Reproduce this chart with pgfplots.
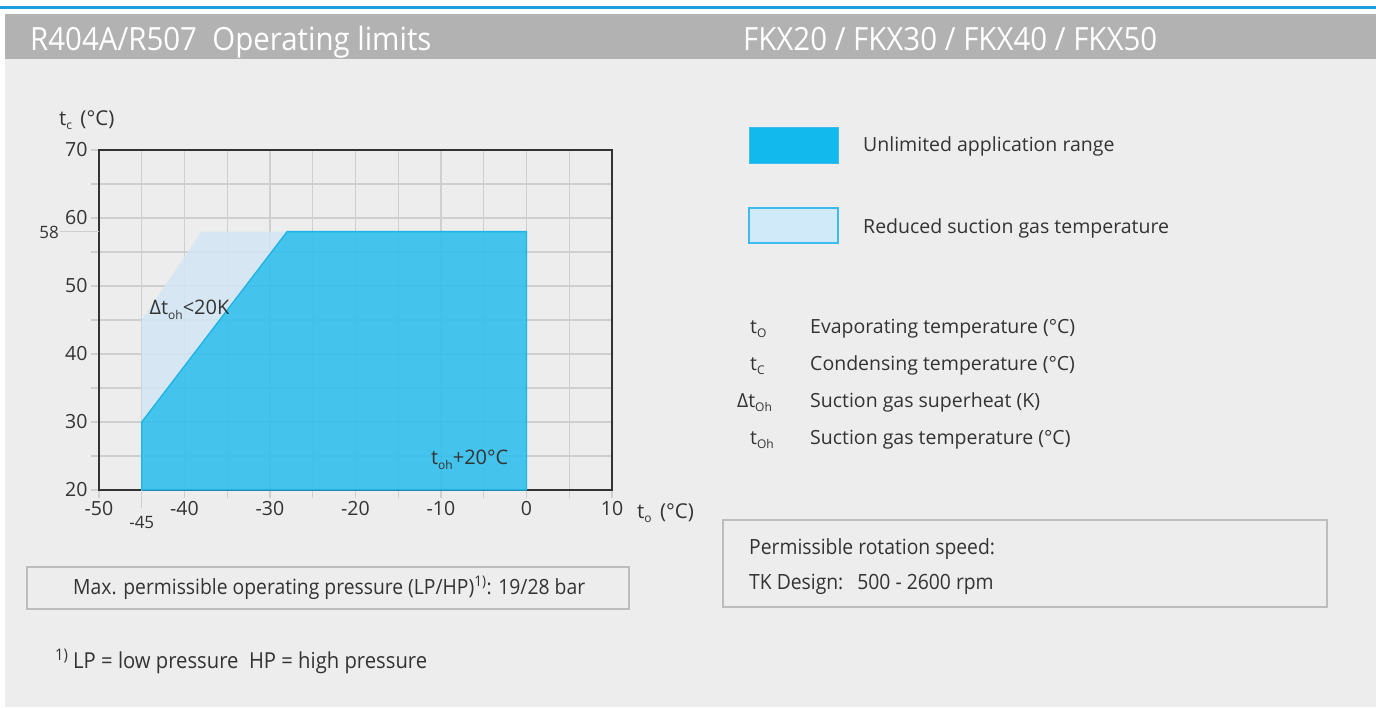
\documentclass[border=0pt]{standalone}
\usepackage{fontspec}
\setmainfont{Open Sans}
\newfontfamily\condfont[FakeStretch=0.92]{Open Sans}
\usepackage{pgfplots}
\pgfplotsset{compat=1.18}
\definecolor{bg}{HTML}{EDEDED}
\definecolor{hdr}{HTML}{B2B2B2}
\definecolor{topblue}{HTML}{1C9FDC}
\definecolor{txt}{HTML}{333333}
\definecolor{gridc}{HTML}{CFCFCF}
\definecolor{darkfill}{HTML}{32BFEC}
\definecolor{darkedge}{HTML}{1AB4E8}
\definecolor{lightfill}{HTML}{D2E7F5}
\definecolor{swdark}{HTML}{12B9EC}
\definecolor{swlight}{HTML}{D0EAF9}
\definecolor{swedge}{HTML}{3DBBEE}
\definecolor{boxc}{HTML}{BDBDBD}
\newcommand{\sub}[1]{\raisebox{-0.45ex}{\fontsize{12}{12}\selectfont #1}}

\pgfplotstableread{
x y
-45 30
-45 45
-38 58
-28 58
-45 30
}\reducedtab
\pgfplotstableread{
x y
-45 20
-45 30
-28 58
0 58
0 20
-45 20
}\unlimtab

\begin{document}
\begin{tikzpicture}
\fill[white] (0pt,0pt) rectangle (1376pt,-707pt);
\fill[bg] (5pt,-14pt) rectangle (1376pt,-707pt);
\fill[hdr] (5pt,-14pt) rectangle (1376pt,-59pt);
\fill[topblue] (0pt,-6pt) rectangle (1376pt,-8.5pt);
\node[anchor=base west, white, font=\condfont\fontsize{32}{32}\selectfont, inner sep=0pt] at (30pt,-50pt) {R404A/R507\ \ Operating limits};
\node[anchor=base west, white, font=\condfont\fontsize{32}{32}\selectfont, inner sep=0pt] at (743pt,-50pt) {FKX20 / FKX30 / FKX40 / FKX50};

\begin{axis}[
  at={(99pt,-490pt)}, anchor=south west,
  scale only axis, width=513pt, height=340pt,
  xmin=-50, xmax=10, ymin=20, ymax=70,
  xtick={-50,-40,...,10}, ytick={20,30,...,70},
  minor xtick={-45,-35,...,5}, minor ytick={25,35,...,65},
  xticklabels={-50,-40,-30,-20,-10,0,10},
  yticklabels={20,30,40,50,60,70},
  xtick pos=bottom, ytick pos=left,
  grid=both,
  major grid style={gridc, line width=1.1pt},
  minor grid style={gridc, line width=1.1pt},
  tick align=outside, major tick length=8pt, minor tick length=8pt,
  every tick/.style={gridc, line width=1.1pt},
  axis line style={txt, line width=1.2pt},
  tick label style={font=\fontsize{19.5}{20}\selectfont, text=txt},
  /pgf/number format/assume math mode=true,
  clip=false,
]
\addplot[fill=lightfill, fill opacity=0.85, draw=none] table[x=x,y=y] {\reducedtab};
\addplot[fill=darkfill, fill opacity=0.9, draw=darkedge, line width=1.3pt] table[x=x,y=y] {\unlimtab};
\draw[gridc, line width=1.1pt] (axis cs:-45,20) -- ++(0pt,-18pt);
\node[anchor=base, txt, font=\fontsize{17}{17}\selectfont, inner sep=0pt] at ([yshift=-38pt]axis cs:-45,20) {-45};
\draw[gridc, line width=1.1pt] (axis cs:-50,58) -- ++(-39pt,0pt);
\node[anchor=base east, txt, font=\fontsize{17}{17}\selectfont, inner sep=0pt] at ([xshift=-40pt,yshift=-7pt]axis cs:-50,58) {58};
\node[anchor=west, txt, font=\fontsize{20}{20}\selectfont, inner sep=0pt] at (axis cs:-44.1,46.5) {Δt\sub{oh}<20K};
\node[anchor=east, txt, font=\fontsize{20}{20}\selectfont, inner sep=0pt] at (axis cs:-2.1,24.4) {t\sub{oh}+20°C};
\end{axis}

\node[anchor=base west, txt, font=\fontsize{20.5}{20}\selectfont, inner sep=0pt] at (59pt,-125pt) {t\sub{c}\hspace{3pt} (°C)};
\node[anchor=base west, txt, font=\fontsize{20.5}{20}\selectfont, inner sep=0pt] at (637pt,-518pt) {t\sub{o}\hspace{3pt} (°C)};

% legend swatches
\draw[swedge, line width=1pt, fill=swdark] (749pt,-127pt) rectangle (838pt,-163pt);
\draw[swedge, line width=1.5pt, fill=swlight] (749pt,-208pt) rectangle (838pt,-243pt);
\node[anchor=base west, txt, font=\fontsize{19.5}{20}\selectfont, inner sep=0pt] at (863pt,-151pt) {Unlimited application range};
\node[anchor=base west, txt, font=\fontsize{19.5}{20}\selectfont, inner sep=0pt] at (863pt,-233pt) {Reduced suction gas temperature};

% symbol list
\begin{scope}[every node/.style={anchor=base west, txt, font=\fontsize{19.5}{20}\selectfont, inner sep=0pt}]
\node at (750pt,-333pt) {t\sub{O}};
\node at (810pt,-333pt) {Evaporating temperature (°C)};
\node at (750pt,-370pt) {t\sub{C}};
\node at (810pt,-370pt) {Condensing temperature (°C)};
\node at (737pt,-407pt) {Δt\sub{Oh}};
\node at (810pt,-407pt) {Suction gas superheat (K)};
\node at (750pt,-444pt) {t\sub{Oh}};
\node at (810pt,-444pt) {Suction gas temperature (°C)};
\end{scope}

% boxes
\draw[boxc, line width=2.5pt] (27pt,-567pt) rectangle (629pt,-609pt);
\node[anchor=base west, txt, font=\condfont\fontsize{21}{21}\selectfont, inner sep=0pt] at (73pt,-594pt) {Max. permissible operating pressure (LP/HP)\textsuperscript{1)}: 19/28 bar};
\draw[boxc, line width=2.5pt] (723pt,-520pt) rectangle (1327pt,-607pt);
\node[anchor=base west, txt, font=\condfont\fontsize{21}{21}\selectfont, inner sep=0pt] at (749pt,-554pt) {Permissible rotation speed:};
\node[anchor=base west, txt, font=\condfont\fontsize{21}{21}\selectfont, inner sep=0pt] at (749pt,-589pt) {TK Design:\hspace{14pt}500 - 2600 rpm};
\node[anchor=base west, txt, font=\condfont\fontsize{22}{22}\selectfont, inner sep=0pt] at (55pt,-668pt) {{\fontsize{16}{16}\selectfont\raisebox{0.9ex}{1)}} LP = low pressure\ \ HP = high pressure};
\end{tikzpicture}
\end{document}
